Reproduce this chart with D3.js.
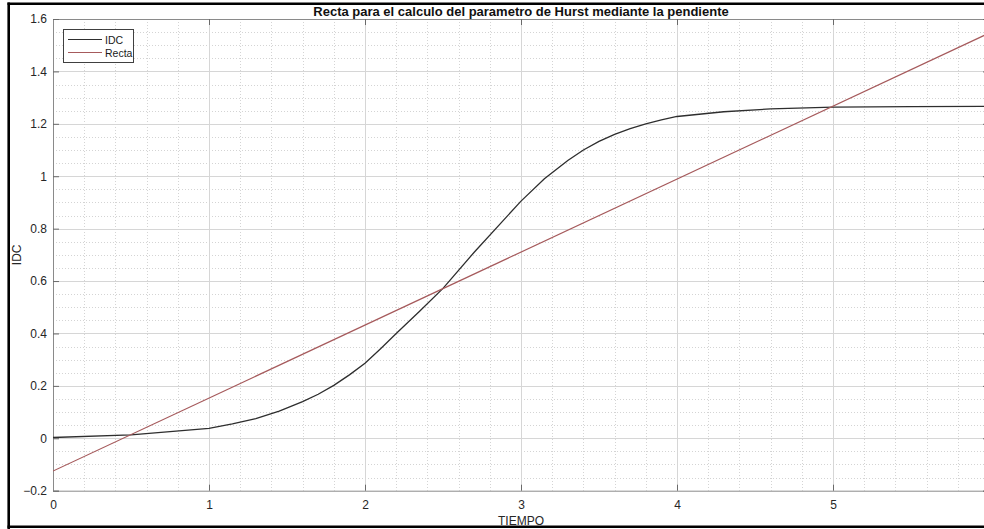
<!DOCTYPE html>
<html>
<head>
<meta charset="utf-8">
<script src="https://cdn.jsdelivr.net/npm/d3@7"></script>
<style>
  html, body { margin: 0; padding: 0; background: #fff; }
  svg { display: block; font-family: "Liberation Sans", Arial, Helvetica, sans-serif; }
</style>
</head>
<body>
<svg id="chart" width="984" height="529"></svg>
<script>
// IDC curve sampled over time
const tiempo = [0, 0.5, 1, 1.15, 1.3, 1.45, 1.6, 1.7, 1.8, 1.9, 2, 2.1, 2.2, 2.35, 2.5, 2.7, 3, 3.15, 3.3, 3.4, 3.5, 3.6, 3.7, 3.8, 3.9, 4, 4.3, 4.6, 5, 5.5, 6];
const idc    = [0.003, 0.013, 0.038, 0.055, 0.075, 0.104, 0.14, 0.168, 0.202, 0.242, 0.286, 0.342, 0.4, 0.485, 0.572, 0.71, 0.905, 0.99, 1.06, 1.1, 1.133, 1.16, 1.182, 1.2, 1.215, 1.228, 1.246, 1.257, 1.264, 1.266, 1.267];

// Fitted straight line (slope used for the Hurst parameter)
const rectaIntercept = -0.125;
const rectaSlope = 0.2785;
const rectaX = [0, 6];

const xTicks = [0, 1, 2, 3, 4, 5, 6];
const yTicks = [-0.2, 0, 0.2, 0.4, 0.6, 0.8, 1, 1.2, 1.4, 1.6];

const titleText = "Recta para el calculo del parametro de Hurst mediante la pendiente";
const xLabel = "TIEMPO";
const yLabel = "IDC";
const legendNames = ["IDC", "Recta"];

const colIDC = "#2e2e2e";
const colRecta = "#a65a5c";

const svg = d3.select("#chart");
const L = 53, R = 989, T = 19, B = 490.7;

const x = d3.scaleLinear().domain([0, 6]).range([L, R]);
const y = d3.scaleLinear().domain([-0.2, 1.6]).range([B, T]);

// figure frame
const frame = svg.append("g").attr("stroke", "#000").attr("stroke-width", 2.6);
frame.append("line").attr("x1", 7.5).attr("x2", 984).attr("y1", 3.8).attr("y2", 3.8);
frame.append("line").attr("x1", 8.7).attr("x2", 8.7).attr("y1", 2.5).attr("y2", 529);
frame.append("line").attr("x1", 7.5).attr("x2", 984).attr("y1", 526.8).attr("y2", 526.8);

// minor grid (dotted)
const minorX = d3.range(0, 6.0001, 0.2).filter(v => Math.abs(v - Math.round(v)) > 1e-6);
const minorY = d3.range(-0.2, 1.6001, 0.05).filter(v => Math.abs(v * 5 - Math.round(v * 5)) > 1e-6);
const gMinor = svg.append("g").attr("stroke", "#d4d4d4").attr("stroke-width", 1).attr("stroke-dasharray", "1,2");
gMinor.selectAll(".mx").data(minorX).join("line")
  .attr("x1", d => Math.round(x(d)) + 0.5).attr("x2", d => Math.round(x(d)) + 0.5)
  .attr("y1", T).attr("y2", B);
gMinor.selectAll(".my").data(minorY).join("line")
  .attr("x1", L).attr("x2", R)
  .attr("y1", d => Math.round(y(d)) + 0.5).attr("y2", d => Math.round(y(d)) + 0.5);

// major grid
const gMajor = svg.append("g").attr("stroke", "#d6d6d6").attr("stroke-width", 1);
gMajor.selectAll(".gx").data(xTicks.slice(1, -1)).join("line")
  .attr("x1", d => Math.round(x(d)) + 0.5).attr("x2", d => Math.round(x(d)) + 0.5)
  .attr("y1", T).attr("y2", B);
gMajor.selectAll(".gy").data(yTicks.slice(1, -1)).join("line")
  .attr("x1", L).attr("x2", R)
  .attr("y1", d => Math.round(y(d)) + 0.5).attr("y2", d => Math.round(y(d)) + 0.5);

// axes box with inward ticks
const fmt = d => (d === 0 ? "0" : d3.format("")(+d.toFixed(1)));
const axB = svg.append("g").attr("transform", `translate(0,${B})`)
  .call(d3.axisBottom(x).tickValues(xTicks).tickSize(-6).tickPadding(10).tickFormat(fmt));
const axT = svg.append("g").attr("transform", `translate(0,${T})`)
  .call(d3.axisTop(x).tickValues(xTicks).tickSize(-6).tickFormat(""));
const axL = svg.append("g").attr("transform", `translate(${L},0)`)
  .call(d3.axisLeft(y).tickValues(yTicks).tickSize(-6).tickPadding(6).tickFormat(fmt));
const axR = svg.append("g").attr("transform", `translate(${R},0)`)
  .call(d3.axisRight(y).tickValues(yTicks).tickSize(-6).tickFormat(""));
[axB, axT, axL, axR].forEach(a => {
  a.select(".domain").attr("stroke", "#8a8a8a").attr("stroke-width", 1);
  a.selectAll(".tick line").attr("stroke", "#6a6a6a");
  a.selectAll(".tick text").attr("fill", "#262626").attr("font-size", 12)
    .attr("font-family", "'Liberation Sans', Arial, sans-serif");
});

// data lines
svg.append("defs").append("clipPath").attr("id", "plotclip")
  .append("rect").attr("x", L).attr("y", T).attr("width", R - L).attr("height", B - T);
const plot = svg.append("g").attr("clip-path", "url(#plotclip)");

const lineGen = d3.line().x(d => x(d[0])).y(d => y(d[1]));
plot.append("path")
  .datum(tiempo.map((t, i) => [t, idc[i]]))
  .attr("d", lineGen).attr("fill", "none")
  .attr("stroke", colIDC).attr("stroke-width", 1.3);
plot.append("path")
  .datum(rectaX.map(t => [t, rectaIntercept + rectaSlope * t]))
  .attr("d", lineGen).attr("fill", "none")
  .attr("stroke", colRecta).attr("stroke-width", 1.2);

// title and axis labels
svg.append("text").attr("x", (L + R) / 2).attr("y", 16)
  .attr("text-anchor", "middle").attr("font-weight", "bold").attr("font-size", 13)
  .attr("fill", "#111").text(titleText);
svg.append("text").attr("x", (L + R) / 2).attr("y", 524.5)
  .attr("text-anchor", "middle").attr("font-size", 12).attr("fill", "#262626").text(xLabel);
svg.append("text").attr("transform", `translate(21,${(T + B) / 2}) rotate(-90)`)
  .attr("text-anchor", "middle").attr("font-size", 12).attr("fill", "#262626").text(yLabel);

// legend
const lg = svg.append("g");
lg.append("rect").attr("x", 63.5).attr("y", 29.5).attr("width", 70).attr("height", 33)
  .attr("fill", "#fff").attr("stroke", "#404040").attr("stroke-width", 1);
const legendColors = [colIDC, colRecta];
legendNames.forEach((name, i) => {
  const ly = 39.5 + i * 13;
  lg.append("line").attr("x1", 68).attr("x2", 102).attr("y1", ly).attr("y2", ly)
    .attr("stroke", legendColors[i]).attr("stroke-width", 1);
  lg.append("text").attr("x", 105).attr("y", ly + 4).attr("font-size", 10.5)
    .attr("fill", "#1a1a1a").text(name);
});
</script>
</body>
</html>
